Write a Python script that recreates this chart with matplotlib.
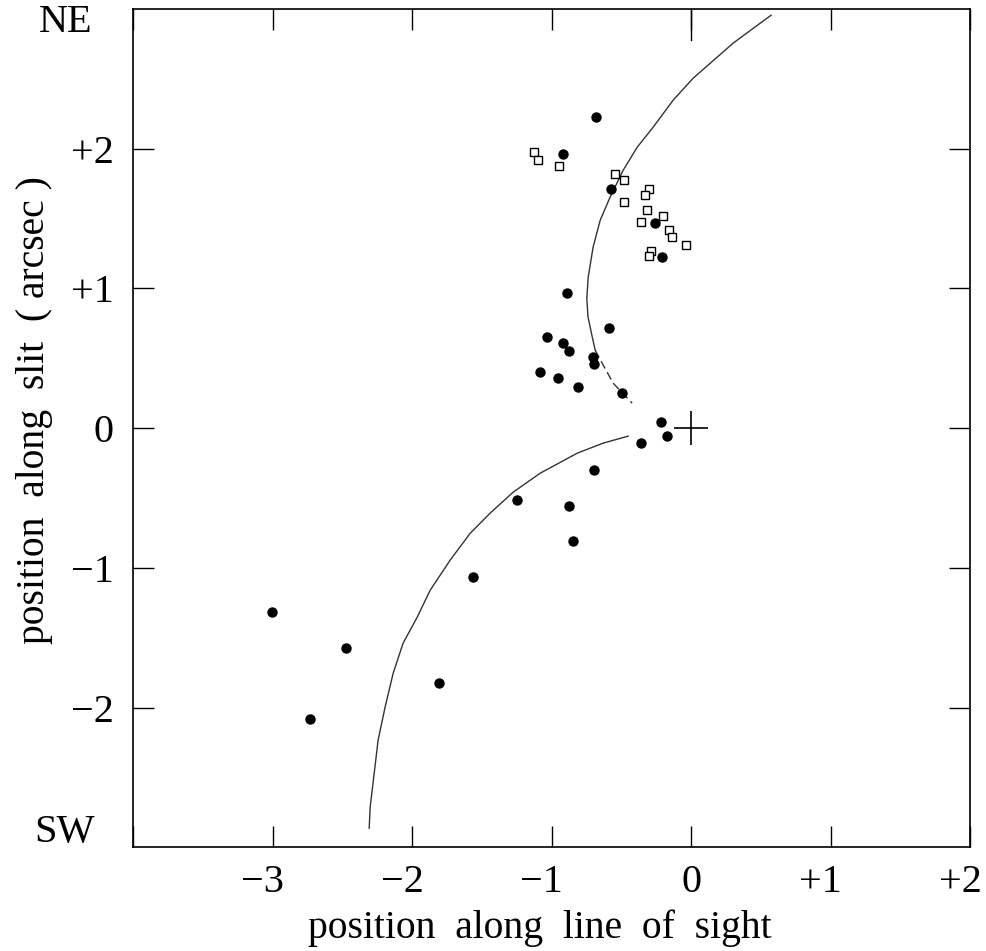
import matplotlib.pyplot as plt
import matplotlib.transforms as mtrans

plt.rcParams['font.family'] = ['Liberation Serif', 'DejaVu Serif']

# filled circles (position along line of sight, position along slit)
dots_x = [-0.681, -0.918, -0.573, -0.258, -0.208, -0.889, -0.588, -1.032, -0.918, -0.875,
          -0.703, -0.695, -1.082, -0.953, -0.810, -0.495, -0.215, -0.172, -0.358, -0.695,
          -1.247, -0.875, -0.846, -1.563, -3.004, -2.473, -1.806, -2.731]
dots_y = [2.226, 1.961, 1.711, 1.467, 1.224, 0.966, 0.716, 0.651, 0.608, 0.551,
          0.508, 0.458, 0.401, 0.358, 0.293, 0.251, 0.043, -0.057, -0.107, -0.301,
          -0.515, -0.558, -0.809, -1.067, -1.317, -1.575, -1.825, -2.083]

# open squares
sq_x = [-1.125, -1.097, -0.946, -0.545, -0.480, -0.301, -0.330, -0.480,
        -0.315, -0.201, -0.358, -0.158, -0.136, -0.036, -0.287, -0.301]
sq_y = [1.976, 1.918, 1.875, 1.818, 1.775, 1.711, 1.668, 1.618,
        1.560, 1.518, 1.475, 1.417, 1.367, 1.310, 1.267, 1.231]

# model curves
up_x = [0.573, 0.495, 0.301, 0.014, -0.129, -0.272, -0.387, -0.487, -0.581, -0.652,
        -0.703, -0.738, -0.748, -0.740, -0.715, -0.688]
up_y = [2.956, 2.899, 2.756, 2.505, 2.348, 2.155, 2.011, 1.847, 1.654, 1.489,
        1.296, 1.081, 0.930, 0.800, 0.680, 0.558]
up_dash_x = [-0.688, -0.638, -0.559, -0.423]
up_dash_y = [0.558, 0.465, 0.322, 0.179]
low_x = [-0.452, -0.631, -0.817, -1.082, -1.276, -1.441, -1.584, -1.728, -1.871,
         -1.964, -2.065, -2.136, -2.194, -2.244, -2.272, -2.301, -2.308]
low_y = [-0.057, -0.107, -0.179, -0.322, -0.458, -0.608, -0.752, -0.945, -1.160,
         -1.353, -1.539, -1.754, -1.997, -2.233, -2.470, -2.713, -2.863]

xticks = [-4, -3, -2, -1, 0, 1, 2]
xlabels = ['', '\u22123', '\u22122', '\u22121', '0', '+1', '+2']
yticks = [-2, -1, 0, 1, 2]
ylabels = ['\u22122', '\u22121', '0', '+1', '+2']

fig = plt.figure(figsize=(9.86, 9.51), dpi=100)
ax = fig.add_axes([0.135, 0.109, 0.849, 0.8815])

ax.plot(up_x, up_y, color='#333333', lw=1)
ax.plot(up_dash_x, up_dash_y, color='#333333', lw=1, dashes=(6, 3))
ax.plot(low_x, low_y, color='#333333', lw=1)

ax.plot(dots_x, dots_y, 'o', color='black', markersize=7.5, markeredgewidth=0)
ax.plot(sq_x, sq_y, 's', markerfacecolor='white', markeredgecolor='black',
        markersize=5.5, markeredgewidth=1)
ax.plot([0], [0], '+', color='black', markersize=25, markeredgewidth=1.2)
# longer tick at the top for x = 0
ax.axvline(0, ymin=1 - 31 / 838, ymax=1, color='black', lw=1)

ax.set_xlim(-4, 2)
ax.set_ylim(-3, 3)
ax.set_xticks(xticks)
xt = ax.set_xticklabels(xlabels)
ax.set_yticks(yticks)
ax.set_yticklabels(ylabels)
ax.tick_params(direction='in', length=15, width=1, top=True, right=True,
               labelsize=29)
ax.tick_params(axis='x', pad=12)
ax.tick_params(axis='y', pad=14)
for s in ax.spines.values():
    s.set_linewidth(1.2)

# signed labels: keep the digit centred on the tick
shift = mtrans.ScaledTranslation(-10 / 100, 0, fig.dpi_scale_trans)
for lab in xt:
    if lab.get_text()[:1] in ('+', '\u2212'):
        lab.set_transform(lab.get_transform() + shift)

ax.set_xlabel('position  along  line  of  sight', fontsize=28.5)
ax.xaxis.set_label_coords(0.486, -0.074)
ax.set_ylabel('position  along  slit  ( arcsec )', fontsize=28.5)
ax.yaxis.set_label_coords(-0.096, 0.5215)

ax.text(-0.048, 0.984, 'NE', transform=ax.transAxes, fontsize=29, ha='right', va='center')
ax.text(-0.046, 0.018, 'SW', transform=ax.transAxes, fontsize=29, ha='right', va='center')

fig.savefig('out.png', dpi=100)
